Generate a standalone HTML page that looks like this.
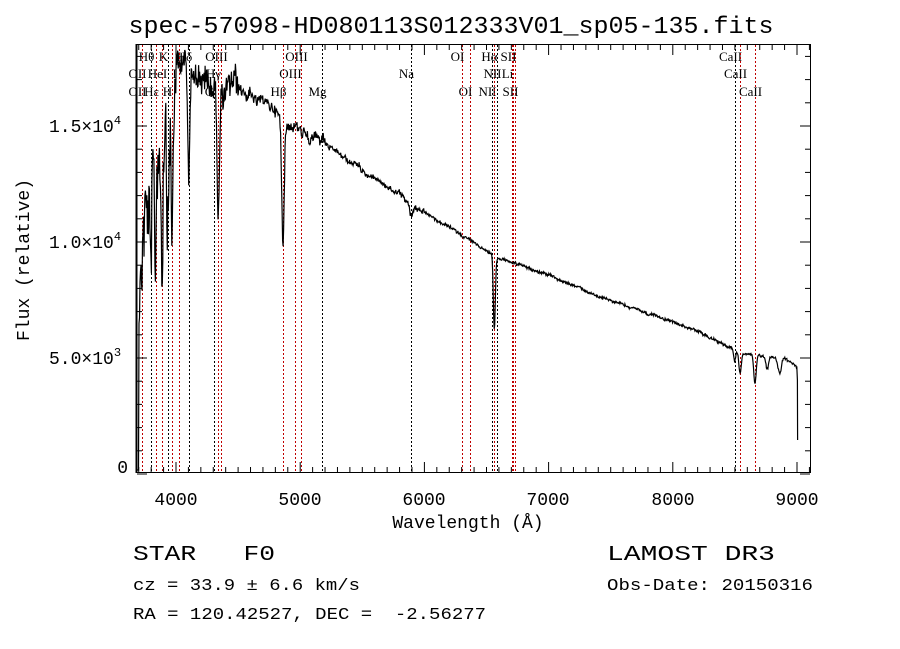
<!DOCTYPE html>
<html><head><meta charset="utf-8"><style>
html,body{margin:0;padding:0;background:#fff;}
svg{display:block;}
text{font-family:"Liberation Mono","DejaVu Sans Mono",monospace;fill:#000;white-space:pre;}
.s{font-family:"Liberation Serif",serif;font-size:13px;}
</style></head><body>
<svg id="c" width="900" height="649" viewBox="0 0 900 649" xmlns="http://www.w3.org/2000/svg" xml:space="preserve">
<rect width="900" height="649" fill="#fff"/>
<text x="451" y="33" font-size="24" text-anchor="middle" textLength="645" lengthAdjust="spacingAndGlyphs">spec-57098-HD080113S012333V01_sp05-135.fits</text>
<g id="lines"></g>
<g id="ticks" stroke="#000" stroke-width="1"></g>
<rect x="136.5" y="44.5" width="674" height="428" fill="none" stroke="#000" stroke-width="1"/>
<line x1="136.5" y1="44" x2="136.5" y2="473" stroke="#000" stroke-width="2"/>
<path id="spec" fill="none" stroke="#000" stroke-width="1.2"/>
<g font-size="18">
<text x="176" y="505" text-anchor="middle">4000</text>
<text x="300" y="505" text-anchor="middle">5000</text>
<text x="424" y="505" text-anchor="middle">6000</text>
<text x="548" y="505" text-anchor="middle">7000</text>
<text x="673" y="505" text-anchor="middle">8000</text>
<text x="797" y="505" text-anchor="middle">9000</text>
<text x="128" y="473" text-anchor="end">0</text>
<text x="49" y="364">5.0×10<tspan font-size="12" dy="-8">3</tspan></text>
<text x="49" y="248">1.0×10<tspan font-size="12" dy="-8">4</tspan></text>
<text x="49" y="132">1.5×10<tspan font-size="12" dy="-8">4</tspan></text>
<text x="468" y="528" text-anchor="middle">Wavelength (Å)</text>
<text transform="translate(29,260) rotate(-90)" text-anchor="middle">Flux (relative)</text>
</g>
<text x="133" y="560" font-size="21" textLength="142" lengthAdjust="spacingAndGlyphs">STAR   F0</text>
<text x="607" y="560" font-size="21" textLength="168" lengthAdjust="spacingAndGlyphs">LAMOST DR3</text>
<text x="133" y="590" font-size="17" textLength="227" lengthAdjust="spacingAndGlyphs">cz = 33.9 ± 6.6 km/s</text>
<text x="607" y="590" font-size="17" textLength="206" lengthAdjust="spacingAndGlyphs">Obs-Date: 20150316</text>
<text x="133" y="619" font-size="17" textLength="353" lengthAdjust="spacingAndGlyphs">RA = 120.42527, DEC =  -2.56277</text>
</svg>
<script>
var NS="http://www.w3.org/2000/svg";
function X(l){return 176+(l-4000)*0.1242;}
function add(g,tag,a,txt){var e=document.createElementNS(NS,tag);for(var k in a)e.setAttribute(k,a[k]);if(txt)e.textContent=txt;g.appendChild(e);return e;}
var L=document.getElementById('lines');
var lines=[[3727,'r','OII',1],[3727,'r','OII',2],[3798,'k','Hθ',0],[3835,'r','Hε',2],[3889,'r','HeI',1],[3934,'k','K',0],[3969,'k','H',2],[3970,'r','',0],[4102,'k','Hδ',0],[4026,'r','I',1],[4305,'k','G',2],[4340,'r','Hγ',1],[4363,'r','OIII',0],[4861,'r','Hβ',2],[4959,'r','OIII',1],[5007,'r','OIII',0],[5175,'k','Mg',2],[5894,'k','Na',1],[6300,'r','OI',0],[6364,'r','OI',2],[6548,'k','NII',2],[6563,'r','Hα',0],[6583,'k','NII',1],[6708,'r','Li',1],[6716,'r','SII',0],[6731,'r','SII',2],[8498,'k','CaII',0],[8542,'r','CaII',1],[8662,'r','CaII',2]];
var ys=[61,78,96];
lines.forEach(function(d){var x=Math.round(X(d[0]))+0.5;
add(L,'line',{x1:x,y1:45,x2:x,y2:472,stroke:d[1]=='r'?'#c00000':'#000','stroke-width':1,'stroke-dasharray':'2,2'});
if(d[2])add(L,'text',{x:x-5,y:ys[d[3]],'class':'s','text-anchor':'middle'},d[2]);});
var T=document.getElementById('ticks');
for(var l=3700;l<=9100;l+=100){var x=X(l);var big=l%1000==0;var len=big?10:5;
add(T,'line',{x1:x,y1:472,x2:x,y2:472-len});add(T,'line',{x1:x,y1:45,x2:x,y2:45+len});}
for(var f=0;f<=18000;f+=1000){var y=474-f*116/5000;if(y<45)continue;var big=f%5000==0;var len=big?10:5;
add(T,'line',{x1:137,y1:y,x2:137+len,y2:y});add(T,'line',{x1:810,y1:y,x2:810-len,y2:y});}
var K=[[3700,300],[3750,200],[3800,180],[3900,150],[4000,70],[4100,60],[4200,80],[4300,88],[4500,90],[4700,100],[4800,110],[4880,120],[5000,128],[5200,145],[5500,170],[5800,195],[5965,210],[6287,234],[6528,252],[6600,258],[7000,275],[7414,297],[8000,322],[8219,332],[8500,350],[8700,355],[8900,358],[9000,366]];
function cont(l){for(var i=0;i<K.length-1;i++){if(l<=K[i+1][0]){var t=(l-K[i][0])/(K[i+1][0]-K[i][0]);return K[i][1]+t*(K[i+1][1]-K[i][1]);}}return 366;}
var dips=[[3798,60,6],[3835,90,6],[3889,110,7],[3934,120,8],[3969,140,8],[4102,110,9],[4340,120,9],[4861,125,10],[5894,12,12],[6563,75,8],[8498,12,8],[8542,22,10],[8662,28,10],[8760,12,12],[8860,15,14]];
var s=12345;function rnd(){s=(s*1103515245+12345)%2147483648;return s/2147483648;}
var d='';var first=true;var slow=0;
for(var l=3690;l<=9000;l+=4){var y=cont(l);
dips.forEach(function(p){var z=(l-p[0])/p[2];y+=p[1]*Math.exp(-z*z/2);});
slow=slow*0.85+(rnd()-0.5)*0.6;
var amp=l<4000?35:l<4500?12:l<5200?5:l<6000?2.5:1.2;y+=(rnd()-0.5)*2*amp+slow*amp*1.5;
if(l<3700)y=470;if(y<45)y=45;if(y>472)y=472;
d+=(first?'M':'L')+X(l).toFixed(1)+','+y.toFixed(1);first=false;}
d+='L'+X(9003).toFixed(1)+',380L'+X(9005).toFixed(1)+',440';
document.getElementById('spec').setAttribute('d',d);
</script>
</body></html>
